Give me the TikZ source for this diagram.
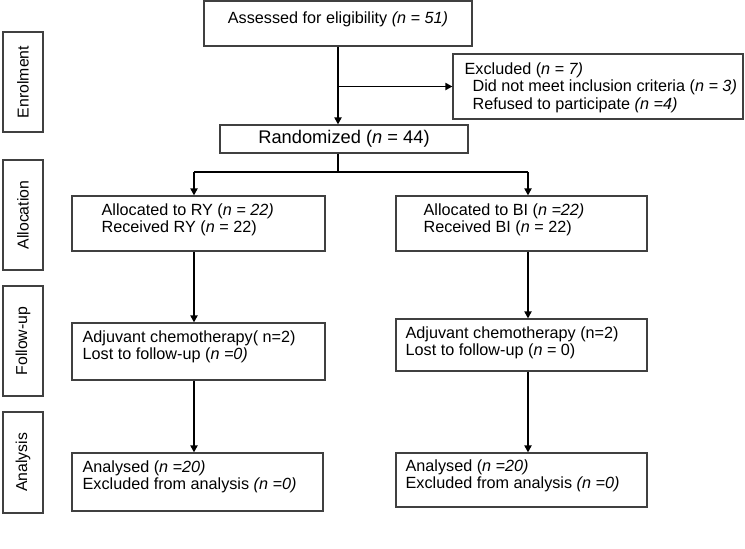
\documentclass[tikz,border=0pt]{standalone}
\usepackage{fontspec}
\setmainfont{Liberation Sans}
\usetikzlibrary{positioning,calc,arrows.meta}
\tikzset{cbox/.style={draw=black!75, line width=1.1pt, inner sep=0pt}}
\tikzset{sidebox/.style={cbox, minimum height=40pt, rotate=90, font=\fontsize{15.8}{16.5}\selectfont}}
\tikzset{txt/.style={inner sep=0pt, align=left, font=\fontsize{16.2}{16.8}\selectfont}}
\tikzset{ln/.style={draw, line width=1.8pt}}
\tikzset{arr/.style={ln, -{Triangle[length=7pt, width=7pt]}}}

\begin{document}
\begin{tikzpicture}[x=1pt, y=-1pt]
			\useasboundingbox (0,0) rectangle (745,549);
			% stages
			\node[sidebox, minimum width=100pt] (enrol) at (23,82) {Enrolment};
			\node[sidebox, minimum width=110pt] (alloc) at (23,215) {Allocation};
			\node[sidebox, minimum width=110pt] (follow) at (23,341) {Follow-up};
			\node[sidebox, minimum width=101pt] (anal) at (23,462.5) {Analysis};
			%
			\node[cbox, minimum width=268pt, minimum height=45pt] (assess) at (338,23.5) {};
			\node[txt, below=11pt of assess.north] (assess-t) {Assessed for eligibility \textit{(n = 51)}};
			\node[cbox, minimum width=290pt, minimum height=65pt] (excl) at (598,86.5) {};
			\node[txt, below right=9pt and 12pt of excl.north west, font=\fontsize{16.2}{17.5}\selectfont] (excl-t)
				{Excluded (\textit{n = 7)}\\
				\hspace*{8pt}Did not meet inclusion criteria (\textit{n = 3)}\\
				\hspace*{8pt}Refused to participate \textit{(n =4)}};
			\node[cbox, minimum width=248pt, minimum height=28pt, font=\fontsize{18.3}{19}\selectfont] (rand) at (344,139)
				{Randomized (\textit{n} = 44)};
			%
			\node[cbox, minimum width=253pt, minimum height=55pt] (allocL) at (198.5,223.5) {};
			\node[txt, below right=8pt and 30pt of allocL.north west] (allocL-t)
				{Allocated to RY (\textit{n = 22)}\\Received RY (\textit{n} = 22)};
			\node[cbox, minimum width=251pt, minimum height=55pt] (allocR) at (521.5,223.5) {};
			\node[txt, below right=8pt and 28pt of allocR.north west] (allocR-t)
				{Allocated to BI (\textit{n =22)}\\Received BI (\textit{n} = 22)};
			%
			\node[cbox, minimum width=253pt, minimum height=57pt] (followL) at (198.5,351.5) {};
			\node[txt, below right=8pt and 11pt of followL.north west] (followL-t)
				{Adjuvant chemotherapy( n=2)\\Lost to follow-up (\textit{n =0)}};
			\node[cbox, minimum width=251pt, minimum height=52pt] (followR) at (521.5,345) {};
			\node[txt, below right=8pt and 10pt of followR.north west] (followR-t)
				{Adjuvant chemotherapy (n=2)\\Lost to follow-up (\textit{n} = 0)};
			%
			\node[cbox, minimum width=251pt, minimum height=58pt] (analL) at (197.5,482) {};
			\node[txt, below right=8pt and 11pt of analL.north west] (analL-t)
				{Analysed (\textit{n =20)}\\Excluded from analysis \textit{(n =0)}};
			\node[cbox, minimum width=251pt, minimum height=54pt] (analR) at (521.5,480) {};
			\node[txt, below right=7pt and 10pt of analR.north west] (analR-t)
				{Analysed (\textit{n =20)}\\Excluded from analysis \textit{(n =0)}};
			%
			\coordinate (split) at (assess.south |- excl.west);
			\coordinate (fork) at ($(assess.south |- rand.south)+(0,19)$);
			\coordinate (colL) at (194,172);
			\coordinate (colR) at (528,172);
			\draw[arr] (assess.south) -- (assess.south |- rand.north);
			\draw[arr] (split) -- (excl.west);
			\draw[ln] (assess.south |- rand.south) -- (fork);
			\draw[ln] (colL) -- (colR);
			\draw[arr] (colL) -- (colL |- allocL.north);
			\draw[arr] (colR) -- (colR |- allocR.north);
			\draw[arr] (colL |- allocL.south) -- (colL |- followL.north);
			\draw[arr] (colR |- allocR.south) -- (colR |- followR.north);
			\draw[arr] (colL |- followL.south) -- (colL |- analL.north);
			\draw[arr] (colR |- followR.south) -- (colR |- analR.north);
		\end{tikzpicture}
\end{document}
